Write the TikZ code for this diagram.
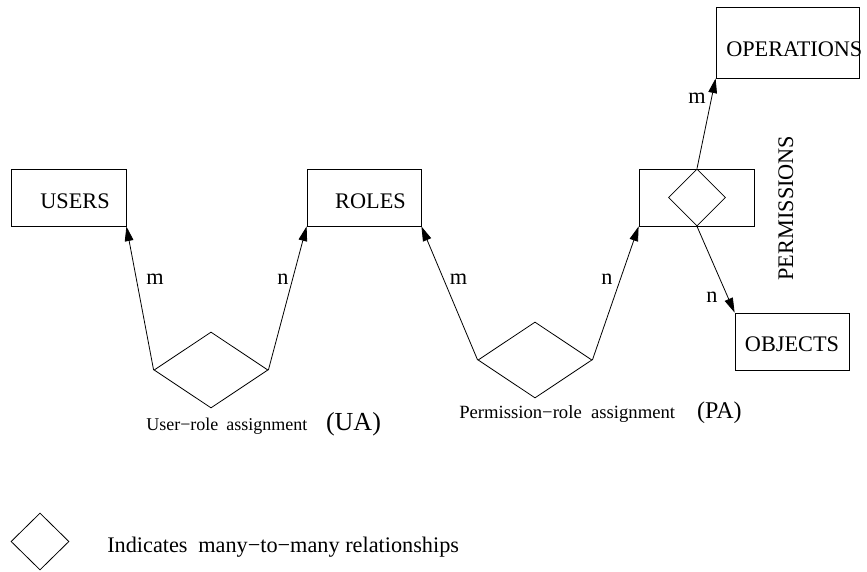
\documentclass[tikz,border=0pt]{standalone}
\usepackage{fontspec}
\setmainfont{Liberation Serif}
\usetikzlibrary{arrows.meta,shapes.geometric}
\begin{document}
\begin{tikzpicture}[x=0.75pt,y=-0.75pt,
  box/.style={draw, line width=0.6pt, rectangle, inner sep=0pt},
  rel/.style={draw, line width=0.6pt, diamond, inner sep=0pt},
  arr/.style={line width=0.6pt, -{Triangle[length=11pt,width=6.5pt]}},
  big/.style={font=\fontsize{16.7}{20}\selectfont, inner sep=0pt},
  small/.style={font=\fontsize{13.5}{16}\selectfont, inner sep=0pt}
]
\useasboundingbox (0,0) rectangle (867,571);

% entity boxes
\node[box, minimum width=86.25pt, minimum height=42.75pt] (users) at (68.5,197.5) {};
\node[box, minimum width=85.5pt,  minimum height=42.75pt] (roles) at (364,197.5) {};
\node[box, minimum width=86.25pt, minimum height=42.75pt] (perm)  at (696.5,197.5) {};
\node[box, minimum width=107.25pt,minimum height=53.25pt] (ops)   at (787.5,42.5) {};
\node[box, minimum width=85.5pt,  minimum height=42.75pt] (objs)  at (792,341.5) {};

% relationship diamonds
\node[rel, minimum width=85.5pt,  minimum height=57pt]    (ua)  at (211,370) {};
\node[rel, minimum width=85.5pt,  minimum height=57pt]    (pa)  at (535,360) {};
\node[rel, minimum width=42.75pt, minimum height=42.75pt] (pd)  at (697,197.5) {};
\node[rel, minimum width=43.5pt,  minimum height=42.75pt] (key) at (40,541.5) {};

% entity names
\node[big, anchor=base] (tusers) at (75,208) {USERS};
\node[big, anchor=base] (troles) at (370.5,208) {ROLES};
\node[big, anchor=base west] (tops) at (726,56) {OPERATIONS};
\node[big, anchor=base] (tobjs) at (792,351) {OBJECTS};
\node[big, anchor=base, rotate=90] (tperm) at (793,208) {PERMISSIONS};

% connectors
\draw[arr] (ua.west) -- (users.south east);
\draw[arr] (ua.east) -- (roles.south west);
\draw[arr] (pa.west) -- (roles.south east);
\draw[arr] (pa.east) -- (perm.south west);
\draw[arr] (pd.north) -- (ops.south west);
\draw[arr] (pd.south) -- (objs.north west);

% cardinalities
\node[big, anchor=base] (c1) at (155,284) {m};
\node[big, anchor=base] (c2) at (283,284) {n};
\node[big, anchor=base] (c3) at (458.5,284) {m};
\node[big, anchor=base] (c4) at (607,284) {n};
\node[big, anchor=base] (c5) at (697,103) {m};
\node[big, anchor=base] (c6) at (712,302) {n};

% relationship names
\node[small, anchor=base west] (tua) at (146,430)
  {User−role\hspace{6pt}assignment\hspace{14pt}{\fontsize{19.5}{22}\selectfont(UA)}};
\node[small, anchor=base west] (tpa) at (459,418)
  {\fontsize{14}{16}\selectfont Permission−role\hspace{7pt}assignment\hspace{16.5pt}{\fontsize{18}{20}\selectfont(PA)}};

% key
\node[big, anchor=base west] (tkey) at (107,552)
  {Indicates\hspace{8pt}many−to−many relationships};
\end{tikzpicture}
\end{document}
